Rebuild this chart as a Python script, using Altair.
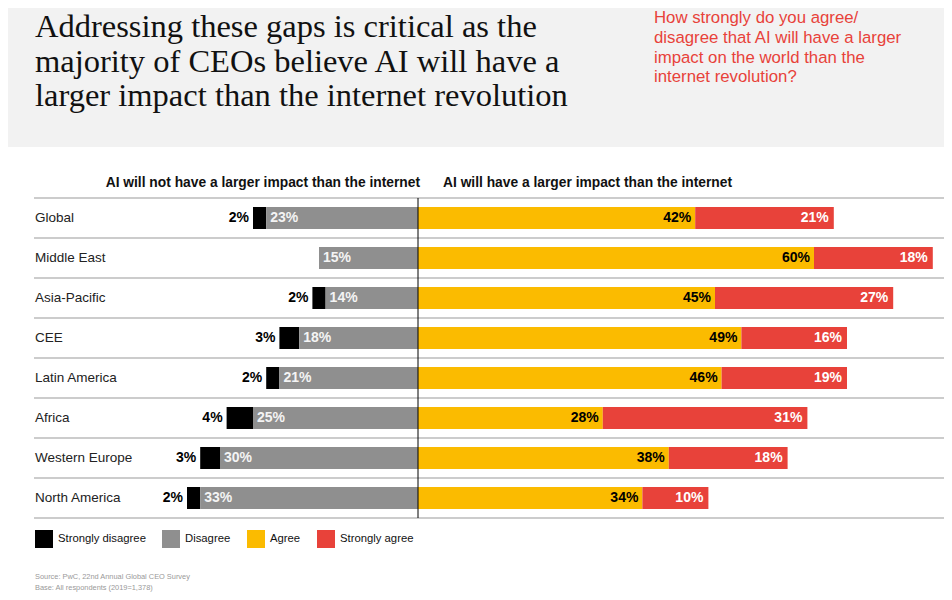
import altair as alt
import pandas as pd

# ---- data ----
regions = ["Global", "Middle East", "Asia-Pacific", "CEE", "Latin America",
           "Africa", "Western Europe", "North America"]
strongly_disagree = [2, 0, 2, 3, 2, 4, 3, 2]
disagree = [23, 15, 14, 18, 21, 25, 30, 33]
agree = [42, 60, 45, 49, 46, 28, 38, 34]
strongly_agree = [21, 18, 27, 16, 19, 31, 18, 10]

categories = ["Strongly disagree", "Disagree", "Agree", "Strongly agree"]
colors = ["#000000", "#8f8f8f", "#FBBB00", "#E8423A"]

title_lines = ["Addressing these gaps is critical as the",
               "majority of CEOs believe AI will have a",
               "larger impact than the internet revolution"]
question_lines = ["How strongly do you agree/",
                  "disagree that AI will have a larger",
                  "impact on the world than the",
                  "internet revolution?"]
left_header = "AI will not have a larger impact than the internet"
right_header = "AI will have a larger impact than the internet"
source_lines = ["Source: PwC, 22nd Annual Global CEO Survey",
                "Base: All respondents (2019=1,378)"]

# ---- build tables ----
rows = []
for r, sd, d, a, sa in zip(regions, strongly_disagree, disagree, agree, strongly_agree):
    rows.append(dict(region=r, category="Strongly disagree", value=sd, start=-(d + sd), end=-d))
    rows.append(dict(region=r, category="Disagree", value=d, start=-d, end=0))
    rows.append(dict(region=r, category="Agree", value=a, start=0, end=a))
    rows.append(dict(region=r, category="Strongly agree", value=sa, start=a, end=a + sa))
df = pd.DataFrame(rows)
df = df[df["value"] > 0].reset_index(drop=True)
df["label"] = df["value"].astype(str) + "%"

region_df = pd.DataFrame({"region": regions})
one = pd.DataFrame({"k": [0]})

SANS = "Liberation Sans"
SERIF = "Liberation Serif"

xscale = alt.Scale(domain=[-60, 60], range=[14, 806], nice=False, zero=False)
yscale = alt.Scale(domain=regions, range=[190, 510], paddingInner=0.45, paddingOuter=0.225)
Y = alt.Y("region:N", scale=yscale, axis=None, sort=regions)
Y_start = alt.Y("region:N", scale=yscale, axis=None, sort=regions, bandPosition=0)

header_bg = alt.Chart(one).mark_rect(color="#f2f2f2").encode(
    x=alt.value(0), x2=alt.value(936), y=alt.value(0), y2=alt.value(139))

title = alt.Chart(one).mark_text(
    text=title_lines, align="left", baseline="alphabetic", font=SERIF,
    fontSize=32.5, lineHeight=34.5, color="#111111").encode(
    x=alt.value(27), y=alt.value(29))

question = alt.Chart(one).mark_text(
    text=question_lines, align="left", baseline="alphabetic", font=SANS,
    fontSize=16.8, lineHeight=19.8, color="#E8423A").encode(
    x=alt.value(646), y=alt.value(15))

separators_top = alt.Chart(region_df).mark_rule(color="#cccccc", strokeWidth=2).encode(
    y=Y_start, x=alt.value(26), x2=alt.value(936), yOffset=alt.value(-9))
separators_bot = alt.Chart(region_df).mark_rule(color="#cccccc", strokeWidth=2).encode(
    y=Y_start, x=alt.value(26), x2=alt.value(936), yOffset=alt.value(31))

bars = alt.Chart(df).mark_bar().encode(
    y=Y,
    x=alt.X("start:Q", scale=xscale, axis=None),
    x2="end:Q",
    color=alt.Color("category:N",
                    scale=alt.Scale(domain=categories, range=colors),
                    legend=alt.Legend(orient="none", legendX=27, legendY=522,
                                      direction="horizontal", title=None,
                                      symbolType="square", symbolSize=324,
                                      symbolStrokeWidth=0, symbolOpacity=1,
                                      labelFont=SANS, labelFontSize=11.3,
                                      labelColor="#111111", labelOffset=5,
                                      columnPadding=16, padding=0)),
)

zero_line = alt.Chart(one).mark_rule(color="#000000", strokeWidth=1).encode(
    x=alt.datum(0), y=alt.value(190), y2=alt.value(510))

region_labels = alt.Chart(region_df).mark_text(
    align="left", baseline="middle", font=SANS, fontSize=13.5, color="#222222").encode(
    y=Y, x=alt.value(27), text="region:N")

def labels(cat, field, align, dx, color):
    return alt.Chart(df).transform_filter(alt.datum.category == cat).mark_text(
        align=align, baseline="middle", font=SANS, fontSize=14, fontWeight="bold",
        dx=dx, color=color).encode(
        y=Y, x=alt.X(f"{field}:Q", scale=xscale), text="label:N")

sd_labels = labels("Strongly disagree", "start", "right", -4, "#000000")
d_labels = labels("Disagree", "start", "left", 4, "#f4f4f4")
a_labels = labels("Agree", "end", "right", -4, "#000000")
sa_labels = labels("Strongly agree", "end", "right", -5, "#ffffff")

left_h = alt.Chart(one).mark_text(
    text=left_header, align="right", baseline="middle", font=SANS, fontSize=13.8,
    fontWeight="bold", color="#111111", dx=2).encode(
    x=alt.datum(0), y=alt.value(175))
right_h = alt.Chart(one).mark_text(
    text=right_header, align="left", baseline="middle", font=SANS, fontSize=13.8,
    fontWeight="bold", color="#111111", dx=25).encode(
    x=alt.datum(0), y=alt.value(175))

source = alt.Chart(one).mark_text(
    text=source_lines, align="left", baseline="alphabetic", font=SANS,
    fontSize=7.4, lineHeight=10.5, color="#999999").encode(
    x=alt.value(27), y=alt.value(571))

chart = alt.layer(
    header_bg, title, question, separators_top, separators_bot, bars, zero_line,
    region_labels, sd_labels, d_labels, a_labels, sa_labels, left_h, right_h, source
).properties(
    width=936, height=584, padding=0,
    autosize=alt.AutoSizeParams(type="none"),
).configure_view(stroke=None)

chart.save("out.html", embed_options={"renderer": "svg", "actions": False})
